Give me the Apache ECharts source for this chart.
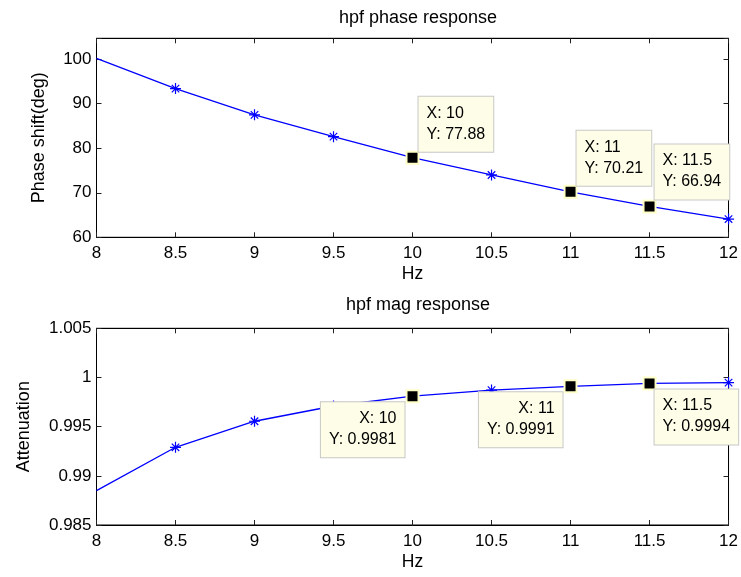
<!DOCTYPE html>
<html>
<head>
<meta charset="utf-8">
<script src="https://cdn.jsdelivr.net/npm/echarts@6/dist/echarts.min.js"></script>
<style>
html,body{margin:0;padding:0;background:#fff;}
#c{width:741px;height:577px;}
</style>
</head>
<body>
<div id="c"></div>
<script>
// ---- data ----
var freqHz = [8, 8.5, 9, 9.5, 10, 10.5, 11, 11.5, 12];
var phaseDeg = [100.2, 93.4, 87.5, 82.6, 77.88, 74.0, 70.21, 66.94, 64.1];
var magAtten = [0.9885, 0.9929, 0.99555, 0.9971, 0.9981, 0.99872, 0.9991, 0.9994, 0.99948];
var tipX = [10, 11, 11.5];
var phaseTipY = [77.88, 70.21, 66.94];
var magTipY = [0.9981, 0.9991, 0.9994];
var xTickLabels = ['8', '8.5', '9', '9.5', '10', '10.5', '11', '11.5', '12'];
var phaseTickLabels = ['60', '70', '80', '90', '100'];
var magTickLabels = ['0.985', '0.99', '0.995', '1', '1.005'];
var titles = ['hpf phase response', 'hpf mag response'];

var FONT = '"Liberation Sans", Arial, Helvetica, sans-serif';
var BLUE = '#0000ff';
var asterisk = 'path://M5,0L5,10M0,5L10,5M1.6,1.6L8.4,8.4M1.6,8.4L8.4,1.6';

function lineData(ys) {
  return freqHz.map(function (x, i) {
    var d = { value: [x, ys[i]] };
    if (i === 0) d.symbol = 'none';
    return d;
  });
}

function tipData(ys, places) {
  return tipX.map(function (x, i) {
    var p = places[i];
    return {
      value: [x, ys[i]],
      label: {
        show: true,
        position: p.pos,
        align: p.align,
        verticalAlign: p.va
      }
    };
  });
}

function xAxes(grid, bottomName) {
  var base = {
    type: 'value', gridIndex: grid, min: 8, max: 12, interval: 0.5,
    splitLine: { show: false },
    axisLine: { show: true, onZero: false, lineStyle: { color: '#000', width: 1 } },
    axisTick: { show: true, inside: true, length: 5, lineStyle: { color: '#222' } }
  };
  return [
    Object.assign({}, base, {
      position: 'bottom',
      name: bottomName, nameLocation: 'middle', nameGap: 28,
      nameTextStyle: { fontFamily: FONT, fontSize: 17.5, color: '#000' },
      axisLabel: {
        fontFamily: FONT, fontSize: 17, color: '#000', margin: 8,
        formatter: function (v) {
          var i = Math.round((v - 8) / 0.5);
          return xTickLabels[i] !== undefined && Math.abs(v - (8 + i * 0.5)) < 1e-9 ? xTickLabels[i] : '';
        }
      }
    }),
    Object.assign({}, base, { position: 'top', axisLabel: { show: false } })
  ];
}

function yAxes(grid, min, max, interval, labels, name, gap) {
  var base = {
    type: 'value', gridIndex: grid, min: min, max: max, interval: interval,
    splitLine: { show: false },
    axisLine: { show: true, onZero: false, lineStyle: { color: '#000', width: 1 } },
    axisTick: { show: true, inside: true, length: 5, lineStyle: { color: '#222' } }
  };
  return [
    Object.assign({}, base, {
      position: 'left',
      name: name, nameLocation: 'middle', nameGap: gap,
      nameTextStyle: { fontFamily: FONT, fontSize: 18, color: '#000' },
      axisLabel: {
        fontFamily: FONT, fontSize: 17, color: '#000', margin: 5, showMaxLabel: true,
        formatter: function (v) {
          var k = Math.round((v - min) / interval);
          return (Math.abs(v - (min + k * interval)) < interval * 1e-6 && labels[k] !== undefined) ? labels[k] : '';
        }
      }
    }),
    Object.assign({}, base, { position: 'right', axisLabel: { show: false } })
  ];
}

var xa = xAxes(0, 'Hz').concat(xAxes(1, 'Hz'));
var ya = yAxes(0, 60, 104.7, 10, phaseTickLabels, 'Phase shift(deg)', 48)
  .concat(yAxes(1, 0.985, 1.005, 0.005, magTickLabels, 'Attenuation', 63));

var tipLabelStyle = {
  fontFamily: FONT, fontSize: 16, color: '#000', lineHeight: 21,
  backgroundColor: '#fdfde8', borderColor: '#c8c8c8', borderWidth: 1,
  padding: [6, 8, 7, 8],
  formatter: function (p) { return 'X: ' + p.value[0] + '\nY: ' + p.value[1]; }
};

var tipStyle = {
  type: 'scatter', symbol: 'rect', symbolSize: 12, z: 5, zlevel: 1,
  itemStyle: { color: '#000', borderColor: '#ffffc8', borderWidth: 2, opacity: 1 },
  label: tipLabelStyle,
  emphasis: { disabled: true },
  clip: false
};

var lineStyleBase = {
  type: 'line', symbol: asterisk, symbolSize: 11, showAllSymbol: true,
  lineStyle: { color: BLUE, width: 1.3 },
  itemStyle: { color: BLUE, borderColor: BLUE, borderWidth: 1.2 },
  emphasis: { disabled: true },
  z: 3
};

var option = {
  animation: false,
  backgroundColor: '#fff',
  title: [
    { text: titles[0], left: 413, top: 4, textAlign: 'center',
      textStyle: { fontFamily: FONT, fontSize: 18, fontWeight: 'normal', color: '#000' } },
    { text: titles[1], left: 413, top: 291, textAlign: 'center',
      textStyle: { fontFamily: FONT, fontSize: 18, fontWeight: 'normal', color: '#000' } }
  ],
  grid: [
    { left: 96.5, right: 11, top: 38.3, height: 199, show: true, borderColor: '#000', borderWidth: 1, backgroundColor: '#fff' },
    { left: 96.5, right: 11, top: 328.3, height: 196.7, show: true, borderColor: '#000', borderWidth: 1, backgroundColor: '#fff' }
  ],
  xAxis: xa,
  yAxis: ya,
  series: [
    Object.assign({}, lineStyleBase, { xAxisIndex: 0, yAxisIndex: 0, data: lineData(phaseDeg) }),
    Object.assign({}, lineStyleBase, { xAxisIndex: 2, yAxisIndex: 2, data: lineData(magAtten) }),
    Object.assign({}, tipStyle, {
      xAxisIndex: 0, yAxisIndex: 0,
      data: tipData(phaseTipY, [
        { pos: [13, 1], align: 'left', va: 'bottom' },
        { pos: [13, 1], align: 'left', va: 'bottom' },
        { pos: [12, 0], align: 'left', va: 'bottom' }
      ])
    }),
    Object.assign({}, tipStyle, {
      xAxisIndex: 2, yAxisIndex: 2,
      data: tipData(magTipY, [
        { pos: [-1, 13], align: 'right', va: 'top' },
        { pos: [-1, 13], align: 'right', va: 'top' },
        { pos: [12, 13], align: 'left', va: 'top' }
      ])
    })
  ]
};

var chart = echarts.init(document.getElementById('c'), null, { renderer: 'canvas' });
chart.setOption(option);
</script>
</body>
</html>
